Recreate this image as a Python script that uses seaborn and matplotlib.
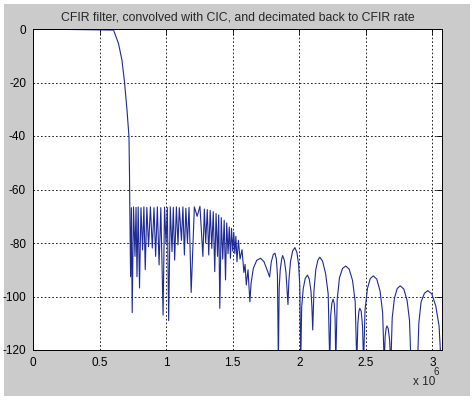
import matplotlib
matplotlib.use('Agg')
import matplotlib.pyplot as plt
from matplotlib.patches import Rectangle
import seaborn as sns

# frequency in units of 1e6 Hz, magnitude in dB
freq = [
    0.0, 0.605, 0.642, 0.668, 0.687, 0.706, 0.721, 0.725, 0.727,
    # dense stopband lobes
    0.733, 0.739, 0.745, 0.755, 0.766, 0.774, 0.781, 0.790, 0.800, 0.811,
    0.823, 0.833, 0.843, 0.855, 0.868, 0.882, 0.896, 0.909, 0.921, 0.934,
    0.947, 0.960, 0.977, 0.988, 0.999, 1.009, 1.019, 1.031, 1.044, 1.054,
    1.064, 1.077, 1.089, 1.099, 1.115, 1.126, 1.137, 1.148, 1.160, 1.172,
    1.188, 1.212, 1.233, 1.254, 1.276, 1.287, 1.297, 1.309, 1.320, 1.331,
    1.343, 1.354, 1.365, 1.375, 1.386, 1.395, 1.403, 1.414, 1.425, 1.436,
    1.446, 1.455, 1.465, 1.474, 1.483, 1.491, 1.500, 1.508, 1.516, 1.524,
    1.532, 1.543, 1.555, 1.570, 1.584, 1.593, 1.602, 1.615, 1.629,
    # wider lobes
    1.638, 1.655, 1.680, 1.709, 1.735, 1.758, 1.777, 1.790, 1.805, 1.817,
    1.828, 1.836, 1.843,
    1.849, 1.857, 1.868, 1.875, 1.888, 1.900, 1.909, 1.915,
    1.922, 1.934, 1.950, 1.967, 1.982, 1.995, 2.004, 2.011,
    2.018, 2.030, 2.045, 2.061, 2.075, 2.088, 2.095, 2.101,
    2.110, 2.124, 2.139, 2.154, 2.175, 2.198, 2.217, 2.229,
    2.236, 2.245, 2.254, 2.262, 2.269, 2.274,
    2.285, 2.302, 2.325, 2.349, 2.375, 2.400, 2.420, 2.432,
    2.440, 2.448, 2.455, 2.465, 2.475, 2.483,
    2.494, 2.512, 2.533, 2.556, 2.582, 2.607, 2.626, 2.638,
    2.645, 2.652, 2.658, 2.668, 2.678, 2.688,
    2.698, 2.715, 2.736, 2.758, 2.785, 2.810, 2.828, 2.839,
    2.863, 2.888,
    2.898, 2.915, 2.940, 2.965, 2.995, 3.025, 3.050, 3.065,
]
mag_db = [
    0.0, -0.4, -5.4, -11.6, -19.7, -30.3, -40.3, -55.0, -66.5,
    -92.6, -66.8, -106.0, -66.5, -85.0, -66.7, -92.6, -66.5, -96.8, -66.8,
    -82.6, -66.5, -90.0, -66.7, -81.4, -66.5, -81.9, -66.8, -85.0, -66.5,
    -88.2, -66.8, -107.0, -66.6, -80.0, -66.8, -109.0, -66.5, -83.2, -66.7,
    -86.4, -66.5, -80.7, -66.8, -79.0, -66.5, -84.5, -67.0, -80.0, -66.7,
    -98.5, -66.5, -70.0, -66.3, -85.0, -67.3, -80.0, -67.5, -84.5, -67.8,
    -82.0, -68.3, -90.7, -69.0, -85.0, -69.5, -104.4, -70.5, -86.0, -71.5,
    -93.8, -72.5, -84.0, -74.0, -85.7, -74.5, -83.0, -76.0, -84.0, -77.5,
    -87.0, -79.0, -86.0, -82.5, -91.0, -88.0, -95.7, -90.0, -102.0,
    -95.0, -89.5, -86.5, -85.7, -87.0, -90.0, -92.7, -87.0, -84.3, -83.8,
    -86.0, -92.0, -125.0,
    -97.0, -90.0, -86.0, -84.7, -86.5, -91.0, -98.0, -103.0,
    -94.0, -87.0, -83.0, -81.7, -83.5, -88.0, -96.0, -125.0,
    -104.0, -97.0, -93.2, -92.0, -93.5, -98.0, -104.0, -112.5,
    -98.0, -90.0, -86.5, -85.3, -86.8, -91.5, -99.0, -125.0,
    -107.0, -102.5, -101.0, -102.5, -108.0, -125.0,
    -101.0, -93.0, -89.5, -88.6, -89.8, -94.0, -102.0, -125.0,
    -110.0, -105.5, -104.4, -105.5, -111.0, -125.0,
    -105.0, -97.0, -93.3, -92.3, -93.5, -98.0, -106.0, -125.0,
    -115.0, -112.0, -111.0, -112.0, -116.0, -125.0,
    -108.0, -100.5, -97.0, -96.0, -97.2, -101.5, -109.0, -125.0,
    -125.0, -125.0,
    -110.0, -102.0, -98.8, -97.8, -99.0, -103.5, -111.0, -125.0,
]
xticks = [0, 0.5, 1, 1.5, 2, 2.5, 3]
yticks = [-120, -100, -80, -60, -40, -20, 0]

sns.set_style('white')
plt.rcParams['font.family'] = ['Liberation Sans', 'DejaVu Sans']
plt.rcParams['axes.unicode_minus'] = False

fig = plt.figure(figsize=(4.72, 4.0), dpi=100, facecolor='white')
fig.patches.append(Rectangle((4 / 472, 4 / 400), 466 / 472, 392 / 400,
                             transform=fig.transFigure, facecolor='#cbcbcb',
                             edgecolor='none', zorder=-10))
ax = fig.add_axes([33 / 472, 50 / 400, 409 / 472, 321 / 400])
ax.set_facecolor('white')

sns.lineplot(x=freq, y=mag_db, sort=False, estimator=None, ax=ax,
             color='#1e2a96', linewidth=0.8)

ax.set_xlim(0, 3.072)
ax.set_ylim(-120, 0)
ax.set_xticks(xticks)
ax.set_xticklabels(['0', '0.5', '1', '1.5', '2', '2.5', '3'])
ax.set_yticks(yticks)
ax.set_yticklabels([str(v) for v in yticks])
ax.grid(True, color='black', linestyle=(0, (2, 2.5)), linewidth=0.6)
ax.tick_params(direction='in', length=4, width=0.6, labelsize=8.5,
               top=True, right=True, colors='black', pad=5)
for s in ax.spines.values():
    s.set_color('black')
    s.set_linewidth(0.7)

ax.set_title('CFIR filter, convolved with CIC, and decimated back to CFIR rate',
             fontsize=8.8, pad=6)
fig.text(413 / 472, 1 - 382 / 400, 'x 10', fontsize=8.5, ha='left', va='center')
fig.text(433 / 472, 1 - 372 / 400, '6', fontsize=7, ha='left', va='center')

fig.savefig('out.png', dpi=100, facecolor=fig.get_facecolor())
